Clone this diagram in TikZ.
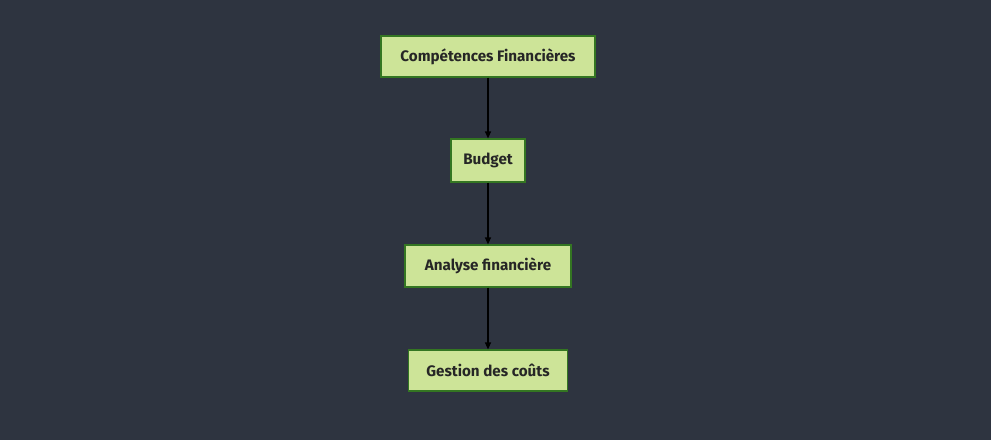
\documentclass[tikz,border=0pt]{standalone}
\usepackage{fontspec}
\setmainfont{Fira Sans}
\usetikzlibrary{arrows.meta}
\definecolor{bg}{RGB}{46,52,64}
\definecolor{boxfill}{RGB}{205,228,152}
\definecolor{boxline}{RGB}{52,118,34}
\tikzset{
  box/.style={draw=boxline, fill=boxfill, line width=1.2pt, inner sep=0pt,
    font=\fontsize{15.2}{17}\selectfont\bfseries, text=black!85},
  conn/.style={draw=black, line width=1.2pt, -{Triangle[length=7pt,width=6pt]}}
}
\begin{document}
\begin{tikzpicture}[x=1pt,y=-1pt]
\fill[bg] (0,0) rectangle (991,440);
\useasboundingbox (0,0) rectangle (991,440);
\node[box, minimum width=214pt, minimum height=41pt] (a) at (488,56.5) {Compétences Financières};
\node[box, minimum width=74pt, minimum height=43pt] (b) at (488,160.5) {Budget};
\node[box, minimum width=166pt, minimum height=42pt] (c) at (488,266) {Analyse financière};
\node[box, minimum width=159pt, minimum height=41pt] (d) at (488,370.5) {Gestion des coûts};
\draw[conn] (a) -- (b);
\draw[conn] (b) -- (c);
\draw[conn] (c) -- (d);
\end{tikzpicture}
\end{document}
